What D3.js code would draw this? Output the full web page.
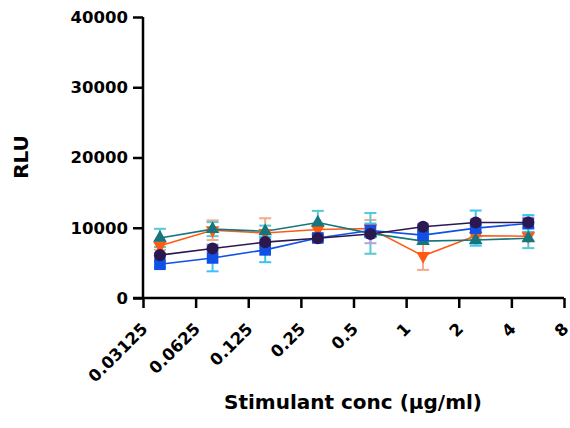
<!DOCTYPE html>
<html>
<head>
<meta charset="utf-8">
<script src="https://cdn.jsdelivr.net/npm/d3@7"></script>
<style>
  body { margin: 0; background: #fff; }
  svg text { font-family: "DejaVu Sans", sans-serif; font-weight: bold; fill: #000; }
</style>
</head>
<body>
<div id="chart"></div>
<script>
// concentrations (µg/ml)
var conc = [0.0390625, 0.078125, 0.15625, 0.3125, 0.625, 1.25, 2.5, 5];
var xTicks = [0.03125, 0.0625, 0.125, 0.25, 0.5, 1, 2, 4, 8];
var xTickLabels = ['0.03125', '0.0625', '0.125', '0.25', '0.5', '1', '2', '4', '8'];
var yTicks = [0, 10000, 20000, 30000, 40000];

// series means and error values
var orangeMean = [7450, 9650, 9250, 9750, 9900, 6000, 8850, 8800];
var orangeErr  = [600, 1400, 2100, 800, 1200, 2000, 500, 600];
var tealMean   = [8550, 9800, 9500, 10750, 9200, 8100, 8250, 8500];
var tealErr    = [1300, 1000, 800, 1650, 2900, 400, 500, 1400];
var blueMean   = [4800, 5700, 6850, 8550, 9600, 8950, 9950, 10600];
var blueErr    = [400, 1900, 1750, 500, 1000, 500, 2500, 1200];
var purpleMean = [6100, 7050, 7950, 8500, 9100, 10150, 10750, 10750];
var purpleErr  = [300, 400, 400, 400, 1300, 400, 400, 700];

(function() {

var series = [
  {mean: orangeMean, err: orangeErr, color: '#ff5a14', errColor: '#f7a78c', shape: 'down'},
  {mean: tealMean, err: tealErr, color: '#15767d', errColor: '#58c8d2', shape: 'up'},
  {mean: blueMean, err: blueErr, color: '#1150e6', errColor: '#3cc3f2', shape: 'square'},
  {mean: purpleMean, err: purpleErr, color: '#2b1850', errColor: '#b2a2e2', shape: 'circle'}
];

var width = 570, height = 428;
var mLeft = 143, mRight = 564, mTop = 17, mBottom = 298;

var svg = d3.select('#chart').append('svg')
    .attr('width', width)
    .attr('height', height);

var x = d3.scaleLog().base(2).domain([0.03125, 8]).range([mLeft, mRight]);
var y = d3.scaleLinear().domain([0, 40000]).range([mBottom, mTop]);

// error bars
series.forEach(function(s) {
  var g = svg.append('g').attr('stroke', s.errColor).attr('stroke-width', 2).attr('fill', 'none');
  conc.forEach(function(c, i) {
    var cx = x(c), y1 = y(s.mean[i] - s.err[i]), y2 = y(s.mean[i] + s.err[i]);
    g.append('line').attr('x1', cx).attr('x2', cx).attr('y1', y1).attr('y2', y2);
    g.append('line').attr('x1', cx - 6).attr('x2', cx + 6).attr('y1', y1).attr('y2', y1);
    g.append('line').attr('x1', cx - 6).attr('x2', cx + 6).attr('y1', y2).attr('y2', y2);
  });
});

// lines
var line = d3.line()
    .x(function(d) { return x(d[0]); })
    .y(function(d) { return y(d[1]); });

series.forEach(function(s) {
  svg.append('path')
      .datum(conc.map(function(c, i) { return [c, s.mean[i]]; }))
      .attr('d', line)
      .attr('fill', 'none')
      .attr('stroke', s.color)
      .attr('stroke-width', 1.6);
});

// markers
var shapes = {
  square: d3.symbol().type(d3.symbolSquare).size(135),
  circle: d3.symbol().type(d3.symbolCircle).size(115),
  up: d3.symbol().type(d3.symbolTriangle).size(80),
  down: d3.symbol().type(d3.symbolTriangle).size(80)
};

series.forEach(function(s) {
  svg.append('g').selectAll('path')
      .data(conc.map(function(c, i) { return [c, s.mean[i]]; }))
      .enter().append('path')
      .attr('d', shapes[s.shape])
      .attr('fill', s.color)
      .attr('transform', function(d) {
        var t = 'translate(' + x(d[0]) + ',' + y(d[1]) + ')';
        return s.shape === 'down' ? t + ' rotate(180)' : t;
      });
});

// y axis
var yAxis = svg.append('g')
    .attr('transform', 'translate(' + mLeft + ',0)')
    .call(d3.axisLeft(y).tickValues(yTicks).tickSize(10).tickPadding(5).tickFormat(d3.format('d')));
yAxis.select('.domain').attr('stroke', '#000').attr('stroke-width', 2.5).attr('d', 'M0,' + mTop + 'V' + mBottom);
yAxis.selectAll('.tick line').attr('stroke', '#000').attr('stroke-width', 2.5);
yAxis.selectAll('.tick text').style('font-size', '16.5px');

// x axis
var xAxis = svg.append('g')
    .attr('transform', 'translate(0,' + mBottom + ')')
    .call(d3.axisBottom(x).tickValues(xTicks).tickSize(10).tickFormat(function(d, i) { return xTickLabels[i]; }));
xAxis.select('.domain').attr('stroke', '#000').attr('stroke-width', 2.5).attr('d', 'M' + (mLeft - 10) + ',0H' + mRight);
xAxis.selectAll('.tick line').attr('stroke', '#000').attr('stroke-width', 2.5);
xAxis.selectAll('.tick text')
    .style('font-size', '16.5px')
    .attr('text-anchor', 'end')
    .attr('x', 0)
    .attr('y', 0)
    .attr('dy', null)
    .attr('transform', 'translate(5,32) rotate(-45)');

// axis titles
svg.append('text')
    .attr('x', 353)
    .attr('y', 409)
    .attr('text-anchor', 'middle')
    .style('font-size', '20px')
    .text('Stimulant conc (µg/ml)');

svg.append('text')
    .attr('transform', 'translate(28,157) rotate(-90)')
    .attr('text-anchor', 'middle')
    .style('font-size', '20px')
    .text('RLU');

})();
</script>
</body>
</html>
